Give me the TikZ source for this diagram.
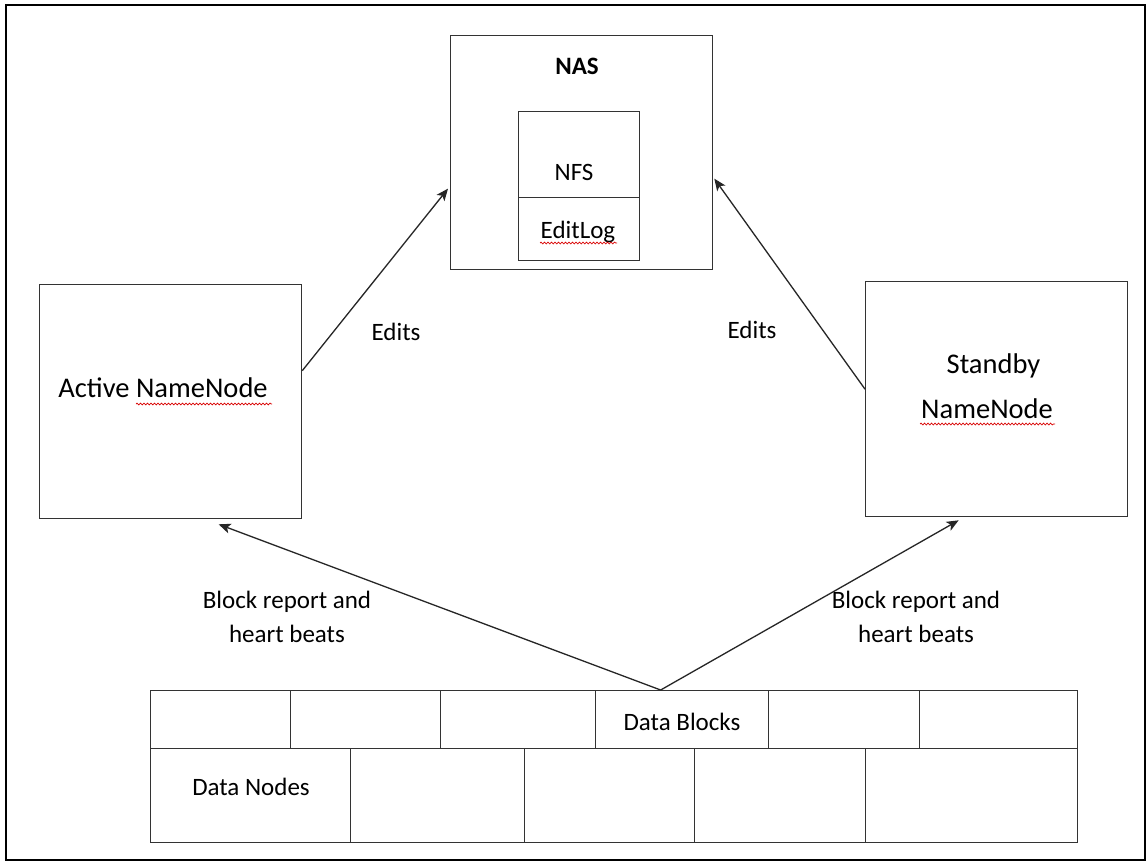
\documentclass[tikz,border=0pt]{standalone}
\usepackage{fontspec}
\setmainfont{Carlito}
\usetikzlibrary{arrows.meta,decorations.pathmorphing}

\begin{document}
\begin{tikzpicture}[x=1pt,y=-1pt,
  box/.style={draw=black!80, line width=1.3pt, rectangle, inner sep=0pt, anchor=north west},
  lbl/.style={font=\fontsize{25}{30}\selectfont, anchor=base, inner sep=0pt},
  big/.style={font=\fontsize{28.5}{34}\selectfont, anchor=base, inner sep=0pt},
  link/.style={draw=black!85, line width=1.3pt, -{Stealth[length=12pt,width=10pt,inset=3pt]}},
  spell/.style={draw=red!85!black, line width=0.7pt, decorate,
                decoration={snake, amplitude=0.9pt, segment length=3.5pt}},
]
% page and frame
\fill[white] (0,0) rectangle (1147,862);
\useasboundingbox (0,0) rectangle (1147,862);
\draw[line width=2.5pt] (6,5) rectangle (1145,860);

% shared storage
\node[box, minimum width=262pt, minimum height=234pt] (nas) at (450,35) {};
\node[box, minimum width=121pt, minimum height=86pt]  (nfs) at (518,111) {};
\node[box, minimum width=121pt, minimum height=63pt]  (editlog) at (518,197) {};
\node[lbl, font=\fontsize{25}{30}\selectfont\bfseries] (nastxt) at (577,74) {NAS};
\node[lbl] (nfstxt) at (574,180) {NFS};
\node[lbl] (edittxt) at (578,238) {EditLog};
\draw[spell] (540,243) -- (617,243);

% name nodes
\node[box, minimum width=262pt, minimum height=234pt] (active) at (39,284) {};
\node[big] (activetxt) at (163,397) {Active NameNode};
\draw[spell] (136,404) -- (272,404);

\node[box, minimum width=262pt, minimum height=235pt] (standby) at (865,281) {};
\node[big] (standbytxt1) at (993.5,373) {Standby};
\node[big] (standbytxt2) at (987,418) {NameNode};
\draw[spell] (920,424) -- (1055,424);

% data blocks (top row)
\foreach \a/\b [count=\i, evaluate=\a as \w using {\b-\a}] in
    {150/290, 290/440, 440/595, 595/768, 768/919, 919/1077}
  \node[box, minimum width=\w pt, minimum height=58pt] (blk\i) at (\a,690) {};
% data nodes (bottom row)
\foreach \a/\b [count=\i, evaluate=\a as \w using {\b-\a}] in
    {150/350, 350/524, 524/694, 694/865, 865/1077}
  \node[box, minimum width=\w pt, minimum height=94pt] (dn\i) at (\a,748) {};
\node[lbl] (blocktxt) at (682,730) {Data Blocks};
\node[lbl] (dntxt) at (251,795) {Data Nodes};

% edits to shared storage
\draw[link] ([yshift=31pt]active.east) -- ([xshift=-2pt,yshift=-36pt]nas.west);
\draw[link] ([yshift=10pt]standby.west) -- ([xshift=1pt,yshift=-26pt]nas.east);
\node[lbl] (edl) at (396,340) {Edits};
\node[lbl] (edr) at (752,338) {Edits};

% block reports
\coordinate (apex) at ([xshift=-21.5pt]blk4.north);
\draw[link] (apex) -- ([xshift=48pt,yshift=-5pt]active.south);
\draw[link] (apex) -- ([xshift=-38pt,yshift=-3pt]standby.south);
\node[lbl, align=center, anchor=base] (brl) at (287,642) {Block report and\\[4pt]heart beats};
\node[lbl, align=center, anchor=base] (brr) at (916,642) {Block report and\\[4pt]heart beats};
\end{tikzpicture}
\end{document}
